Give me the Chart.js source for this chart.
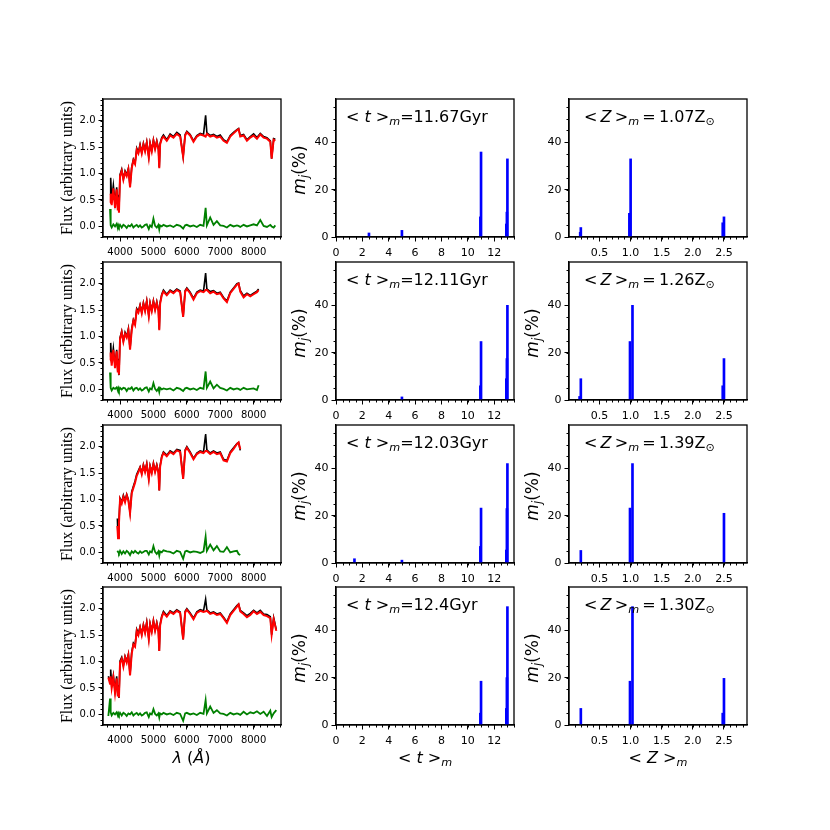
<!DOCTYPE html>
<html>
<head>
<meta charset="utf-8">
<script src="https://cdn.jsdelivr.net/npm/chart.js@4.4.1/dist/chart.umd.min.js"></script>
<style>
  html, body { margin: 0; padding: 0; background: #fff; }
  #page { position: relative; width: 830px; height: 830px; overflow: hidden; background: #fff; }
  #page canvas { position: absolute; }
  .lbl { position: absolute; white-space: nowrap; color: #000; font-family: 'DejaVu Sans', sans-serif; line-height: 1; z-index: 5; }
  .ylab { transform: translate(-50%, -50%) rotate(-90deg); }
  .xlab { transform: translate(-50%, -50%); }
  .serif { font-family: 'Liberation Serif', 'DejaVu Serif', serif; }
  .lbl sub { font-size: 70%; vertical-align: -0.3em; line-height: 0; }
</style>
</head>
<body>
<div id="page"></div>
<script>
"use strict";

// Row 1 spectrum: wavelength (A), observed, model, residual
var W1 = [3700, 3720, 3750, 3800, 3850, 3900, 3933, 3950, 3968, 4000,
          4050, 4100, 4150, 4200, 4250, 4300, 4350, 4400, 4450, 4500,
          4550, 4600, 4650, 4700, 4750, 4800, 4861, 4900, 4950, 5000,
          5050, 5100, 5150, 5175, 5200, 5250, 5300, 5400, 5500, 5600,
          5700, 5800, 5890, 5950, 6000, 6100, 6200, 6300, 6400, 6500,
          6563, 6600, 6700, 6800, 6900, 7000, 7100, 7200, 7300, 7400,
          7500, 7550, 7600, 7700, 7800, 7900, 8000, 8100, 8200, 8300,
          8400, 8500, 8540, 8600, 8650];
var OBS1 = [0.60, 0.92, 0.50, 0.78, 0.45, 0.74, 0.35, 0.60, 0.28, 0.98,
            1.08, 0.90, 1.05, 0.98, 1.10, 0.76, 1.12, 1.27, 1.20, 1.48,
            1.40, 1.55, 1.40, 1.57, 1.44, 1.60, 1.32, 1.58, 1.44, 1.64,
            1.48, 1.62, 1.47, 1.12, 1.57, 1.68, 1.73, 1.64, 1.75, 1.70,
            1.78, 1.73, 1.32, 1.74, 1.80, 1.74, 1.62, 1.72, 1.76, 1.74,
            2.10, 1.77, 1.72, 1.74, 1.70, 1.73, 1.64, 1.60, 1.72, 1.78,
            1.83, 1.85, 1.72, 1.74, 1.64, 1.70, 1.75, 1.68, 1.76, 1.70,
            1.68, 1.62, 1.28, 1.66, 1.65];
var MOD1 = [0.45, 0.62, 0.40, 0.72, 0.35, 0.70, 0.30, 0.55, 0.26, 0.95,
            1.05, 0.88, 1.02, 0.95, 1.08, 0.74, 1.10, 1.25, 1.18, 1.45,
            1.38, 1.52, 1.38, 1.55, 1.42, 1.58, 1.30, 1.56, 1.42, 1.62,
            1.46, 1.60, 1.45, 1.10, 1.55, 1.66, 1.70, 1.62, 1.72, 1.68,
            1.75, 1.70, 1.32, 1.72, 1.78, 1.72, 1.60, 1.70, 1.74, 1.72,
            1.70, 1.75, 1.70, 1.72, 1.68, 1.70, 1.62, 1.58, 1.70, 1.76,
            1.82, 1.84, 1.70, 1.72, 1.62, 1.68, 1.72, 1.66, 1.74, 1.68,
            1.66, 1.60, 1.28, 1.64, 1.62];
var RES1 = [0.33, 0.02, -0.02, 0.04, 0.00, 0.05, -0.03, 0.02, -0.01, 0.03,
            -0.02, 0.03, 0.01, -0.03, 0.02, 0.00, 0.04, -0.02, 0.01, 0.03,
            -0.01, 0.02, -0.02, 0.00, 0.03, 0.04, -0.05, 0.02, -0.01, 0.15,
            0.01, -0.02, 0.03, -0.06, 0.02, 0.00, 0.03, 0.00, 0.02, -0.01,
            0.03, 0.01, -0.04, 0.02, 0.03, 0.00, 0.02, -0.01, 0.03, 0.01,
            0.35, 0.02, 0.17, 0.03, 0.10, 0.02, 0.01, -0.02, 0.03, 0.00,
            0.02, 0.01, -0.01, 0.03, 0.00, 0.02, 0.04, 0.02, 0.12, 0.01,
            -0.01, 0.03, 0.00, -0.02, 0.02];

// Row 2 spectrum
var W2 = [3700, 3720, 3750, 3800, 3850, 3900, 3933, 3950, 3968, 4000,
          4050, 4100, 4150, 4200, 4250, 4300, 4350, 4400, 4450, 4500,
          4550, 4600, 4650, 4700, 4750, 4800, 4861, 4900, 4950, 5000,
          5050, 5100, 5150, 5175, 5200, 5250, 5300, 5400, 5500, 5600,
          5700, 5800, 5890, 5950, 6000, 6100, 6200, 6300, 6400, 6500,
          6563, 6600, 6700, 6800, 6900, 7000, 7100, 7200, 7300, 7400,
          7500, 7550, 7600, 7700, 7800, 7900, 8000, 8100, 8150];
var OBS2 = [0.62, 0.88, 0.50, 0.78, 0.45, 0.75, 0.34, 0.58, 0.27, 0.98,
            1.10, 0.92, 1.08, 1.00, 1.15, 0.77, 1.15, 1.32, 1.25, 1.53,
            1.48, 1.60, 1.46, 1.64, 1.50, 1.68, 1.40, 1.64, 1.50, 1.68,
            1.52, 1.66, 1.50, 1.14, 1.64, 1.80, 1.88, 1.80, 1.88, 1.84,
            1.90, 1.86, 1.37, 1.87, 1.92, 1.84, 1.72, 1.84, 1.88, 1.86,
            2.20, 1.90, 1.85, 1.87, 1.82, 1.84, 1.74, 1.67, 1.84, 1.92,
            2.00, 2.01, 1.87, 1.77, 1.82, 1.78, 1.82, 1.86, 1.90];
var MOD2 = [0.55, 0.70, 0.45, 0.75, 0.40, 0.72, 0.32, 0.55, 0.28, 0.95,
            1.08, 0.90, 1.05, 0.98, 1.12, 0.75, 1.12, 1.30, 1.22, 1.50,
            1.45, 1.58, 1.44, 1.62, 1.48, 1.66, 1.38, 1.62, 1.48, 1.66,
            1.50, 1.64, 1.48, 1.12, 1.62, 1.78, 1.85, 1.78, 1.86, 1.82,
            1.88, 1.84, 1.37, 1.85, 1.90, 1.82, 1.70, 1.82, 1.86, 1.84,
            1.88, 1.88, 1.82, 1.85, 1.80, 1.82, 1.72, 1.65, 1.82, 1.90,
            1.98, 2.00, 1.85, 1.74, 1.80, 1.76, 1.80, 1.84, 1.88];
var RES2 = [0.32, 0.03, -0.02, 0.03, 0.01, 0.04, -0.02, 0.02, -0.02, 0.03,
            0.00, 0.03, 0.02, -0.03, 0.02, 0.01, 0.04, -0.02, 0.02, 0.03,
            -0.01, 0.02, -0.02, 0.00, 0.03, 0.04, -0.04, 0.02, 0.00, 0.12,
            0.01, -0.03, 0.02, -0.05, 0.03, 0.00, 0.02, 0.00, 0.02, -0.02,
            0.03, 0.01, -0.03, 0.02, 0.03, 0.00, 0.02, -0.01, 0.03, 0.01,
            0.34, 0.03, 0.15, 0.02, 0.09, 0.03, 0.01, -0.02, 0.03, 0.00,
            0.02, 0.01, -0.01, 0.03, 0.00, 0.01, 0.02, -0.01, 0.08];

// Row 3 spectrum
var W3 = [3920, 3940, 3968, 4000, 4050, 4100, 4150, 4200, 4250, 4300,
          4350, 4400, 4450, 4500, 4550, 4600, 4650, 4700, 4750, 4800,
          4861, 4900, 4950, 5000, 5050, 5100, 5150, 5175, 5200, 5250,
          5300, 5400, 5500, 5600, 5700, 5800, 5890, 5950, 6000, 6100,
          6200, 6300, 6400, 6500, 6563, 6600, 6700, 6800, 6900, 7000,
          7100, 7200, 7300, 7400, 7500, 7550, 7600];
var OBS3 = [0.64, 0.28, 0.58, 1.02, 0.95, 1.08, 0.98, 1.10, 1.00, 0.76,
            1.15, 1.25, 1.35, 1.48, 1.55, 1.62, 1.50, 1.66, 1.54, 1.68,
            1.40, 1.64, 1.52, 1.69, 1.54, 1.66, 1.52, 1.17, 1.64, 1.82,
            1.90, 1.84, 1.92, 1.88, 1.95, 1.93, 1.39, 1.94, 2.00, 1.90,
            1.78, 1.88, 1.92, 1.90, 2.24, 1.94, 1.88, 1.92, 1.88, 1.90,
            1.76, 1.74, 1.90, 1.98, 2.06, 2.08, 1.93];
var MOD3 = [0.50, 0.27, 0.55, 1.00, 0.92, 1.05, 0.95, 1.08, 0.98, 0.74,
            1.12, 1.22, 1.32, 1.45, 1.52, 1.60, 1.48, 1.64, 1.52, 1.66,
            1.38, 1.62, 1.50, 1.67, 1.52, 1.64, 1.50, 1.17, 1.62, 1.80,
            1.88, 1.82, 1.90, 1.86, 1.93, 1.90, 1.39, 1.92, 1.98, 1.88,
            1.76, 1.86, 1.90, 1.88, 1.92, 1.92, 1.86, 1.90, 1.86, 1.88,
            1.74, 1.72, 1.88, 1.96, 2.05, 2.08, 1.95];
var RES3 = [0.03, 0.01, -0.02, 0.03, -0.03, 0.02, -0.02, 0.03, 0.00, -0.05,
            0.02, -0.01, 0.03, 0.00, -0.02, 0.02, -0.01, 0.01, 0.03, 0.03,
            -0.04, 0.02, 0.00, 0.12, 0.01, -0.03, 0.02, -0.06, 0.02, 0.00,
            0.04, 0.02, 0.01, -0.02, 0.03, 0.01, -0.12, 0.02, 0.03, 0.00,
            0.02, 0.01, -0.01, 0.02, 0.30, 0.03, 0.15, 0.04, 0.12, 0.02,
            0.01, 0.10, 0.00, 0.02, 0.03, -0.03, -0.05];

// Row 4 spectrum
var W4 = [3650, 3700, 3720, 3750, 3800, 3850, 3900, 3933, 3950, 3968,
          4000, 4050, 4100, 4150, 4200, 4250, 4300, 4350, 4400, 4450,
          4500, 4550, 4600, 4650, 4700, 4750, 4800, 4861, 4900, 4950,
          5000, 5050, 5100, 5150, 5175, 5200, 5250, 5300, 5400, 5500,
          5600, 5700, 5800, 5890, 5950, 6000, 6100, 6200, 6300, 6400,
          6500, 6563, 6600, 6700, 6800, 6900, 7000, 7100, 7200, 7300,
          7400, 7500, 7550, 7600, 7700, 7800, 7900, 8000, 8100, 8200,
          8300, 8400, 8500, 8540, 8600, 8680];
var OBS4 = [0.72, 0.62, 0.85, 0.55, 0.74, 0.45, 0.72, 0.36, 0.55, 0.31,
            1.01, 1.08, 0.93, 1.10, 1.01, 1.14, 0.76, 1.18, 1.35, 1.30,
            1.61, 1.53, 1.66, 1.52, 1.70, 1.56, 1.75, 1.44, 1.72, 1.58,
            1.78, 1.60, 1.74, 1.58, 1.20, 1.70, 1.86, 1.95, 1.87, 1.96,
            1.92, 1.98, 1.94, 1.42, 1.95, 2.00, 1.92, 1.82, 1.94, 1.98,
            1.96, 2.18, 1.98, 1.92, 1.94, 1.90, 1.92, 1.84, 1.75, 1.90,
            1.98, 2.06, 2.09, 1.97, 1.92, 1.87, 1.91, 1.97, 1.92, 1.97,
            1.90, 1.89, 1.85, 1.51, 1.83, 1.60];
var MOD4 = [0.70, 0.58, 0.72, 0.50, 0.70, 0.40, 0.68, 0.34, 0.52, 0.32,
            0.98, 1.05, 0.90, 1.08, 0.98, 1.12, 0.74, 1.15, 1.32, 1.28,
            1.58, 1.50, 1.64, 1.50, 1.68, 1.54, 1.72, 1.42, 1.70, 1.56,
            1.76, 1.58, 1.72, 1.56, 1.20, 1.68, 1.84, 1.92, 1.85, 1.94,
            1.90, 1.96, 1.92, 1.42, 1.93, 1.98, 1.90, 1.80, 1.92, 1.96,
            1.94, 1.95, 1.96, 1.90, 1.92, 1.88, 1.90, 1.82, 1.73, 1.88,
            1.96, 2.04, 2.08, 1.95, 1.90, 1.84, 1.88, 1.95, 1.90, 1.94,
            1.88, 1.86, 1.82, 1.51, 1.80, 1.58];
var RES4 = [-0.03, 0.30, 0.04, -0.02, 0.03, 0.00, 0.04, -0.02, 0.02, -0.01,
            0.03, -0.02, 0.03, 0.01, -0.03, 0.02, 0.00, 0.04, -0.02, 0.01,
            0.03, -0.01, 0.02, -0.02, 0.00, 0.03, 0.04, -0.05, 0.02, 0.00,
            0.10, 0.01, -0.02, 0.02, -0.06, 0.02, 0.00, 0.03, 0.00, 0.02,
            -0.01, 0.03, 0.01, -0.12, 0.02, 0.03, 0.00, 0.02, -0.01, 0.03,
            0.01, 0.27, 0.02, 0.15, 0.03, 0.08, 0.02, 0.01, -0.02, 0.03,
            0.00, 0.02, 0.01, -0.01, 0.05, 0.00, 0.04, 0.02, 0.06, 0.01,
            0.05, -0.03, 0.07, -0.05, 0.02, 0.08];

// Mass fractions m_j (%) against age (Gyr)
var AGE_X1 = [2.5, 5.0, 10.95, 11.0, 12.92, 12.96, 13.0];
var AGE_Y1 = [1.7, 2.8, 8.5, 35.9, 5.5, 10.5, 33];
var AGE_X2 = [5.0, 10.95, 11.0, 12.92, 12.96, 13.0];
var AGE_Y2 = [1.3, 6, 24.7, 9, 17.5, 40];
var AGE_X3 = [1.4, 5.0, 10.95, 11.0, 12.92, 12.96, 13.0];
var AGE_Y3 = [1.8, 1.2, 7, 23.2, 5.5, 23, 42];
var AGE_X4 = [10.95, 11.0, 12.92, 12.96, 13.0];
var AGE_Y4 = [5, 18.5, 7, 20, 50];

// Mass fractions m_j (%) against metallicity (Z_sun)
var Z_X1 = [0.19, 0.2, 0.98, 1.0, 2.48, 2.5];
var Z_Y1 = [2, 4, 10, 33, 6, 8.5];
var Z_X2 = [0.18, 0.2, 0.99, 1.03, 2.48, 2.5];
var Z_Y2 = [1.5, 9, 24.7, 40, 6, 17.5];
var Z_X3 = [0.2, 0.99, 1.03, 2.5];
var Z_Y3 = [5.3, 23.2, 42, 21];
var Z_X4 = [0.2, 0.99, 1.03, 2.48, 2.5];
var Z_Y4 = [7, 18.5, 50, 5, 19.7];

// Mean values printed in the panels
var AGE_MEAN = ['11.67', '12.11', '12.03', '12.4'];
var Z_MEAN = ['1.07', '1.26', '1.39', '1.30'];

// Tick labels
var SPEC_XTICKS = [4000, 5000, 6000, 7000, 8000];
var SPEC_YTICKS = [0, 0.5, 1, 1.5, 2];
var AGE_XTICKS = [0, 2, 4, 6, 8, 10, 12];
var Z_XTICKS = [0.5, 1, 1.5, 2, 2.5];
var MJ_YTICKS = [0, 20, 40];

// Panel geometry (page pixels)
var COL_LEFT = [103, 336, 569];
var ROW_TOP = [99, 262, 425, 587];
var BOX_W = 178, BOX_H = 138;
var PAD_L = 52, PAD_T = 10, PAD_R = 10, PAD_B = 26;

var page = document.getElementById('page');

// Frame on all four sides plus minor ticks on bottom and left
var framePlugin = {
    id: 'frame',
    afterDraw: function (chart, args, opts) {
        var ctx = chart.ctx, a = chart.chartArea;
        var xs = chart.scales.x, ys = chart.scales.y;
        var k, px;
        ctx.save();
        ctx.strokeStyle = '#000';
        ctx.lineWidth = 1;
        ctx.beginPath();
        for (k = Math.ceil(xs.min / opts.xMinor); k * opts.xMinor <= xs.max + 1e-9; k++) {
            px = Math.round(xs.getPixelForValue(k * opts.xMinor)) + 0.5;
            ctx.moveTo(px, a.bottom);
            ctx.lineTo(px, a.bottom + 2.5);
        }
        for (k = Math.ceil(ys.min / opts.yMinor); k * opts.yMinor <= ys.max + 1e-9; k++) {
            px = Math.round(ys.getPixelForValue(k * opts.yMinor)) + 0.5;
            ctx.moveTo(a.left, px);
            ctx.lineTo(a.left - 2.5, px);
        }
        ctx.stroke();
        ctx.lineWidth = 1.3;
        ctx.strokeRect(a.left, a.top, a.right - a.left, a.bottom - a.top);
        ctx.restore();
    }
};

function makeCanvas(col, row) {
    var c = document.createElement('canvas');
    var w = BOX_W + PAD_L + PAD_R, h = BOX_H + PAD_T + PAD_B;
    c.width = w;
    c.height = h;
    c.style.left = (COL_LEFT[col] - PAD_L) + 'px';
    c.style.top = (ROW_TOP[row] - PAD_T) + 'px';
    c.style.width = w + 'px';
    c.style.height = h + 'px';
    page.appendChild(c);
    return c;
}

function axis(min, max, ticks, fmt, isX, size) {
    return {
        type: 'linear',
        min: min,
        max: max,
        offset: false,
        afterBuildTicks: function (scale) {
            scale.ticks = ticks.map(function (v) { return { value: v }; });
        },
        afterFit: function (scale) {
            if (isX) { scale.height = PAD_B; } else { scale.width = PAD_L; }
        },
        grid: { display: true, offset: false, drawOnChartArea: false, drawTicks: true, tickLength: 4.5, color: '#000', lineWidth: 1 },
        border: { display: true, color: '#000', width: 1.3 },
        ticks: {
            color: '#000',
            font: { family: 'DejaVu Sans', size: size },
            padding: isX ? 5 : 3,
            maxRotation: 0,
            autoSkip: false,
            callback: fmt
        }
    };
}

function fmt1(v) { return v.toFixed(1); }
function fmt0(v) { return String(v); }

function baseOptions(xAxis, yAxis, xMinor, yMinor) {
    return {
        responsive: false,
        animation: false,
        events: [],
        layout: { padding: { top: PAD_T, right: PAD_R, left: 0, bottom: 0 } },
        plugins: {
            legend: { display: false },
            tooltip: { enabled: false },
            frame: { xMinor: xMinor, yMinor: yMinor }
        },
        scales: { x: xAxis, y: yAxis }
    };
}

function spectrum(row, w, obs, mod, res) {
    var pts = function (ys) {
        return w.map(function (x, i) { return { x: x, y: ys[i] }; });
    };
    var options = baseOptions(
        axis(3490, 8820, SPEC_XTICKS, fmt0, true, 10),
        axis(-0.2, 2.41, SPEC_YTICKS, fmt1, false, 10),
        200, 0.1
    );
    options.elements = { point: { radius: 0 }, line: { tension: 0 } };
    new Chart(makeCanvas(0, row), {
        type: 'line',
        data: {
            datasets: [
                { data: pts(mod), borderColor: '#ff0000', borderWidth: 2, order: 0 },
                { data: pts(obs), borderColor: '#000000', borderWidth: 1.6, order: 1 },
                { data: pts(res), borderColor: '#008000', borderWidth: 1.8, order: 2 }
            ]
        },
        options: options,
        plugins: [framePlugin]
    });
}

function fractions(col, row, xs, ys, xAxis, xMinor) {
    var options = baseOptions(xAxis, axis(0, 58.3, MJ_YTICKS, fmt0, false, 11), xMinor, 5);
    new Chart(makeCanvas(col, row), {
        type: 'bar',
        data: {
            datasets: [{
                data: xs.map(function (x, i) { return { x: x, y: ys[i] }; }),
                backgroundColor: '#0000ff',
                borderWidth: 0,
                barThickness: 2
            }]
        },
        options: options,
        plugins: [framePlugin]
    });
}

function label(html, x, y, cls, size) {
    var d = document.createElement('div');
    d.className = 'lbl ' + cls;
    d.style.left = x + 'px';
    d.style.top = y + 'px';
    d.style.fontSize = size + 'px';
    d.innerHTML = html;
    page.appendChild(d);
}

var SPECTRA = [[W1, OBS1, MOD1, RES1], [W2, OBS2, MOD2, RES2], [W3, OBS3, MOD3, RES3], [W4, OBS4, MOD4, RES4]];
var AGES = [[AGE_X1, AGE_Y1], [AGE_X2, AGE_Y2], [AGE_X3, AGE_Y3], [AGE_X4, AGE_Y4]];
var METALS = [[Z_X1, Z_Y1], [Z_X2, Z_Y2], [Z_X3, Z_Y3], [Z_X4, Z_Y4]];

for (var r = 0; r < 4; r++) {
    var s = SPECTRA[r];
    spectrum(r, s[0], s[1], s[2], s[3]);
    fractions(1, r, AGES[r][0], AGES[r][1], axis(0, 13.5, AGE_XTICKS, fmt0, true, 11), 0.5);
    fractions(2, r, METALS[r][0], METALS[r][1], axis(0.01, 2.87, Z_XTICKS, fmt1, true, 11), 0.1);

    var mid = ROW_TOP[r] + BOX_H / 2;
    label('Flux (arbitrary units)', 66.5, mid, 'ylab serif', 16);
    label('<i>m</i><sub><i>j</i></sub>(%)', 299, mid + 2, 'ylab', 17);
    if (r > 0) {
        label('<i>m</i><sub><i>j</i></sub>(%)', 532, mid + 2, 'ylab', 17);
    }
    label('&lt; <i>t</i> &gt;<sub><i>m</i></sub>=' + AGE_MEAN[r] + 'Gyr', COL_LEFT[1] + 10, ROW_TOP[r] + 10, 'ann', 16);
    label('&lt;&#8201;<i>Z</i>&#8201;&gt;<sub><i>m</i></sub>&#8201;=&#8201;' + Z_MEAN[r] + 'Z<sub>&#8857;</sub>', COL_LEFT[2] + 15, ROW_TOP[r] + 10, 'ann', 16);
}

// Bottom axis titles
label('<i>&lambda;</i> (<i>&Aring;</i>)', 191.5, 758, 'xlab', 16);
label('&lt; <i>t</i> &gt;<sub><i>m</i></sub>', 425, 758, 'xlab', 16);
label('&lt; <i>Z</i> &gt;<sub><i>m</i></sub>', 658, 758, 'xlab', 16);
</script>
</body>
</html>
